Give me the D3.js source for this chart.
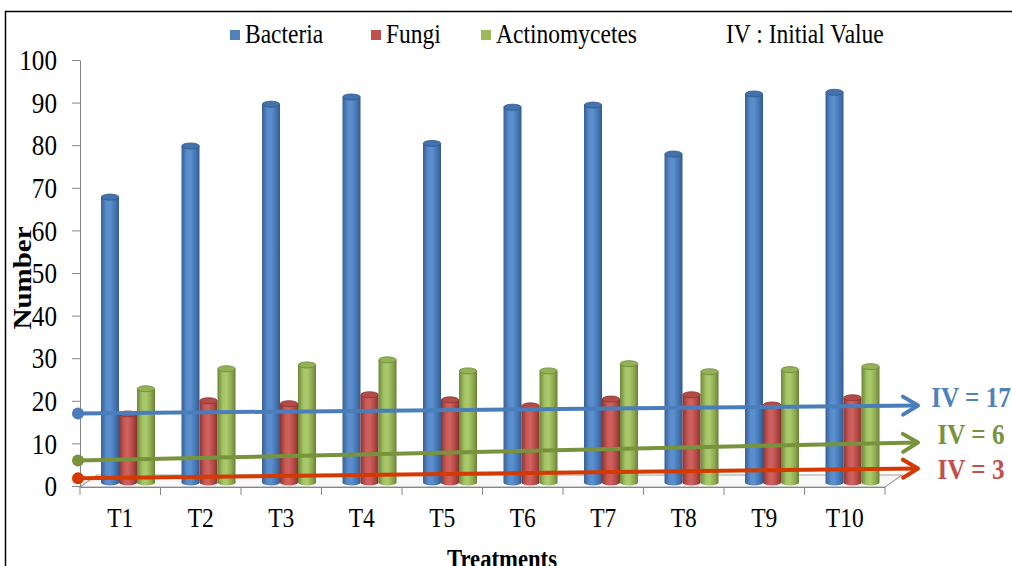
<!DOCTYPE html>
<html>
<head>
<meta charset="utf-8">
<script src="https://cdn.jsdelivr.net/npm/d3@7"></script>
<style>
  body { margin: 0; background: #fff; }
  text { font-family: "Liberation Serif", "Times New Roman", serif; }
</style>
</head>
<body>
<svg id="chart" width="1012" height="566"></svg>
<script>
// data
const treatments = ["T1", "T2", "T3", "T4", "T5", "T6", "T7", "T8", "T9", "T10"];
const seriesNames = ["Bacteria", "Fungi", "Actinomycetes"];
const bacteria = [67.0, 79.0, 88.8, 90.5, 79.6, 88.1, 88.6, 77.1, 91.2, 91.6];
const fungi = [16.1, 19.2, 18.5, 20.6, 19.4, 18.0, 19.6, 20.6, 18.2, 19.9];
const actinomycetes = [22.0, 26.7, 27.6, 28.8, 26.2, 26.2, 27.9, 26.0, 26.5, 27.2];
const yTicks = [0, 10, 20, 30, 40, 50, 60, 70, 80, 90, 100];
const ivLabels = ["IV = 17", "IV = 6", "IV = 3"];
const ivStart = [17, 6, 1.8];
const ivEnd = [18.9, 10.2, 4.1];

const seriesValues = [bacteria, fungi, actinomycetes];
const SX = 0.84; // the picture's text is a bit narrow

const colors = ["#4F81BD", "#C0504D", "#9BBB59"];
const bodyStops = [
  ["#375f93", "#5a8ccb", "#5b8fcf", "#4576b3", "#345b8c"],
  ["#8c3532", "#c95a57", "#cf625f", "#b24845", "#873330"],
  ["#6c8736", "#a5c466", "#abca6c", "#8eaa4f", "#687f34"]
];
const capColors = ["#4373ad", "#b54b48", "#93b256"];
const capStroke = ["#30578a", "#8a3532", "#6b8638"];
const ivColors = ["#4A7EBB", "#77933C", "#D43A00"];
const ivTextColors = ["#4F81BD", "#77933C", "#C0504D"];

const svg = d3.select("#chart");
const defs = svg.append("defs");

bodyStops.forEach((st, k) => {
  const g = defs.append("linearGradient").attr("id", "body" + k)
    .attr("x1", 0).attr("x2", 1).attr("y1", 0).attr("y2", 0);
  [0, 0.3, 0.5, 0.78, 1].forEach((o, j) => g.append("stop").attr("offset", o).attr("stop-color", st[j]));
});

ivColors.forEach((c, k) => {
  defs.append("marker").attr("id", "arrow" + k)
    .attr("markerUnits", "userSpaceOnUse")
    .attr("markerWidth", 24).attr("markerHeight", 24)
    .attr("refX", 18).attr("refY", 12).attr("orient", "auto")
    .append("path").attr("d", "M3,3 L18,12 L3,21")
    .attr("fill", "none").attr("stroke", c).attr("stroke-width", 4)
    .attr("stroke-linecap", "round").attr("stroke-linejoin", "round");
});

// outer frame
svg.append("rect").attr("x", 5.5).attr("y", 11.5).attr("width", 1100).attr("height", 600)
  .attr("fill", "none").attr("stroke", "#000").attr("stroke-width", 1.5);

const x = d3.scaleBand().domain(treatments).range([80, 885]);
const y = d3.scaleLinear().domain([0, 100]).range([486, 60]);
const x1 = d3.scaleBand().domain(seriesNames).range([21, 75]);
const dz = -3.5; // bars sit mid depth on the floor

// floor
const fx0 = x.range()[0], fx1 = x.range()[1], fy = y(0) + 1;
svg.append("path")
  .attr("d", `M${fx0},${fy} L${fx1},${fy} L${fx1 + 17},${fy - 12} L${fx0 + 17},${fy - 12} Z`)
  .attr("fill", "#f8f8f8").attr("stroke", "#a0a0a0").attr("stroke-width", 1.2);

// y axis
const yAxisG = svg.append("g").attr("transform", `translate(80,0)`)
  .call(d3.axisLeft(y).tickValues(yTicks).tickSize(8).tickSizeOuter(0).tickPadding(15));
yAxisG.select(".domain").attr("stroke", "#868686");
yAxisG.selectAll(".tick line").attr("stroke", "#868686");
yAxisG.selectAll("text").style("font-size", "30px").attr("fill", "#000")
  .each(function () {
    const t = d3.select(this), tx = +t.attr("x");
    t.attr("x", 0).attr("transform", `translate(${tx},0) scale(${SX},1)`);
  });

// x axis
const xAxisG = svg.append("g").attr("transform", `translate(0,${y(0) + 1})`)
  .call(d3.axisBottom(x).tickSize(0).tickPadding(20));
xAxisG.select(".domain").attr("stroke", "#868686");
xAxisG.selectAll("text").style("font-size", "28px").attr("fill", "#000")
  .attr("transform", `scale(${SX},1)`);
xAxisG.selectAll(".bound").data(treatments.map(d => x(d)).concat([x.range()[1]]))
  .join("line").attr("class", "bound")
  .attr("x1", d => d).attr("x2", d => d).attr("y1", 0).attr("y2", 8)
  .attr("stroke", "#868686");

// cylinders
const groups = svg.append("g").selectAll("g").data(treatments).join("g")
  .attr("transform", d => `translate(${x(d)},0)`);
groups.each(function (t, i) {
  const g = d3.select(this);
  seriesNames.forEach((s, k) => {
    const v = seriesValues[k][i];
    const w = x1.bandwidth(), bx = x1(s), cx = bx + w / 2;
    const top = y(v) + dz, base = y(0) + dz;
    const ry = 3;
    g.append("ellipse").attr("cx", cx).attr("cy", base).attr("rx", w / 2).attr("ry", ry)
      .attr("fill", `url(#body${k})`);
    g.append("rect").attr("x", bx).attr("y", top).attr("width", w).attr("height", base - top)
      .attr("fill", `url(#body${k})`);
    g.append("ellipse").attr("cx", cx).attr("cy", top).attr("rx", w / 2 - 0.3).attr("ry", ry)
      .attr("fill", capColors[k]).attr("stroke", capStroke[k]).attr("stroke-width", 0.8);
  });
});

// initial value arrows
const ax0 = x.range()[0] - 2, ax1 = x.range()[1] + 35;
const labelShift = [2, 1, 10];
ivStart.forEach((v, k) => {
  svg.append("line")
    .attr("x1", ax0).attr("y1", y(v)).attr("x2", ax1 - 2).attr("y2", y(ivEnd[k]))
    .attr("stroke", ivColors[k]).attr("stroke-width", 4)
    .attr("marker-end", `url(#arrow${k})`);
  svg.append("circle").attr("cx", ax0).attr("cy", y(v)).attr("r", 6).attr("fill", ivColors[k]);
  svg.append("text")
    .attr("transform", `translate(971,${y(ivEnd[k]) + labelShift[k]}) scale(${SX},1)`)
    .attr("text-anchor", "middle")
    .style("font-size", "30px").style("font-weight", "bold")
    .attr("fill", ivTextColors[k])
    .text(ivLabels[k]);
});

// legend
const legendX = [230, 371, 481];
seriesNames.forEach((s, k) => {
  svg.append("rect").attr("x", legendX[k]).attr("y", 30).attr("width", 10).attr("height", 10)
    .attr("fill", colors[k]);
  svg.append("text")
    .attr("transform", `translate(${legendX[k] + 15},43) scale(${SX},1)`)
    .style("font-size", "28px").attr("fill", "#000").text(s);
});
svg.append("text")
  .attr("transform", `translate(726,43) scale(${SX},1)`)
  .style("font-size", "28px").attr("fill", "#000").text("IV : Initial Value");

// axis titles
svg.append("text")
  .attr("transform", `translate(31,278) rotate(-90) scale(1,${SX})`)
  .attr("text-anchor", "middle")
  .style("font-size", "29px").style("font-weight", "bold")
  .text("Number");
svg.append("text")
  .attr("transform", `translate(502,568) scale(${SX},1)`)
  .attr("text-anchor", "middle")
  .style("font-size", "27px").style("font-weight", "bold")
  .text("Treatments");
</script>
</body>
</html>
